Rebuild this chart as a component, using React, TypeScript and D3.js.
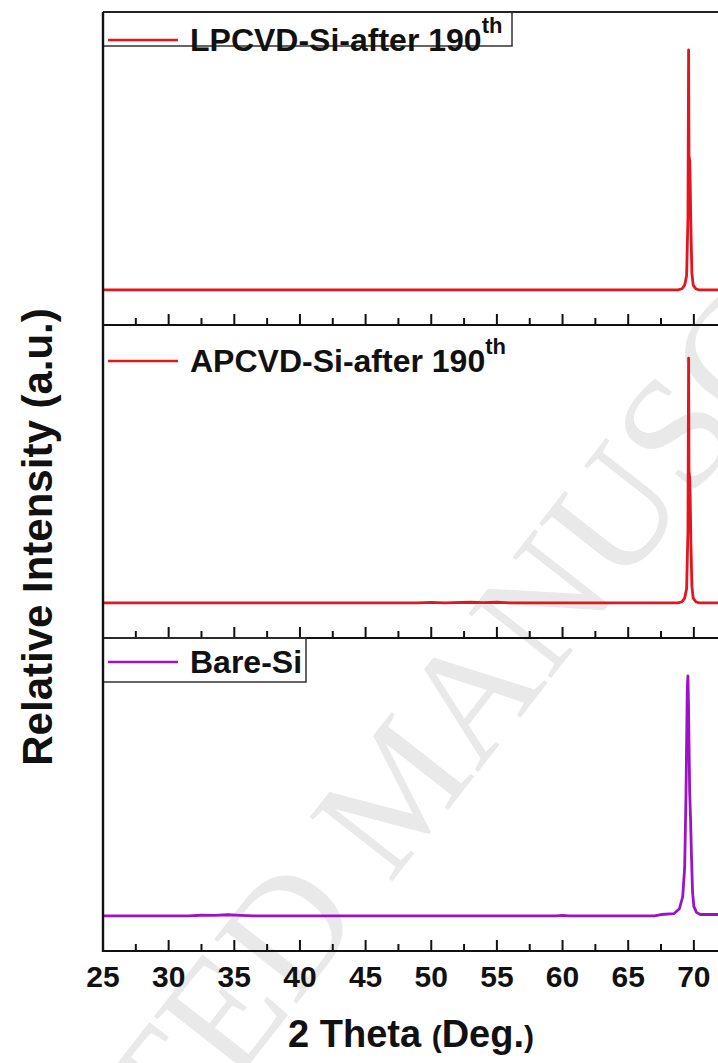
import React from "react";
import * as d3 from "d3";

// XRD scans, 2-theta (deg) vs normalised intensity
const lpcvd: [number, number][] = [
  [25, 0], [40, 0], [55, 0], [68.8, 0], [69.1, 0.005], [69.3, 0.02], [69.45, 0.06],
  [69.55, 0.3], [69.6, 1.0], [69.63, 0.56], [69.68, 0.54], [69.72, 0.45], [69.78, 0.25],
  [69.85, 0.07], [69.95, 0.02], [70.15, 0.005], [70.4, 0], [80, 0],
];
const apcvd: [number, number][] = [
  [25, 0], [49, 0], [50, 0.002], [51, 0], [53, 0.003], [54, 0.001], [55, 0.003], [56, 0],
  [68.8, 0], [69.1, 0.005], [69.3, 0.02], [69.45, 0.06], [69.55, 0.3], [69.6, 1.02],
  [69.63, 0.55], [69.68, 0.52], [69.72, 0.44], [69.78, 0.24], [69.85, 0.07], [69.95, 0.02],
  [70.15, 0.005], [70.4, 0], [80, 0],
];
const bareSi: [number, number][] = [
  [25, 0], [31.5, 0], [32.5, 0.003], [33.5, 0.002], [34.5, 0.005], [35.5, 0.002], [36.5, 0],
  [59.5, 0], [60, 0.002], [60.5, 0], [67, 0], [67.5, 0.006], [68.5, 0.01], [68.9, 0.03],
  [69.15, 0.08], [69.3, 0.2], [69.4, 0.5], [69.5, 0.95], [69.55, 1.0], [69.6, 0.86],
  [69.68, 0.52], [69.75, 0.4], [69.82, 0.25], [69.9, 0.1], [70.0, 0.04], [70.2, 0.015],
  [70.5, 0.006], [80, 0.006],
];

const seriesData = [lpcvd, apcvd, bareSi];
const seriesNames = ["LPCVD-Si-after 190", "APCVD-Si-after 190", "Bare-Si"];
const seriesSup = ["th", "th", ""];
const seriesColors = ["#e3161d", "#e3161d", "#9a14c6"];

const majorTicks = [25, 30, 35, 40, 45, 50, 55, 60, 65, 70, 75, 80];
const minorTicks = [27.5, 32.5, 37.5, 42.5, 47.5, 52.5, 57.5, 62.5, 67.5, 72.5, 77.5];

const xTitle = "2 Theta";
const xUnit = "Deg.";
const yTitle = "Relative Intensity (a.u.)";
const watermark = "ACCEPTED MANUSCRIPT";

const W = 718, H = 1063;
const left = 103;
const panelTop = 12, panelH = 313;
const font = "'Liberation Sans', Arial, sans-serif";

export default function App() {
  const x = d3.scaleLinear().domain([25, 80]).range([left, left + 55 * 13.13]);

  return (
    <svg width={W} height={H} style={{ position: "absolute", left: 0, top: 0, background: "#fff" }}>
      <rect width={W} height={H} fill="#fff" />
      <text
        transform="translate(-144,1568) rotate(-52)"
        fontFamily="'Liberation Serif', 'Times New Roman', serif"
        fontSize={160}
        fill="#e9e9e9"
      >
        {watermark}
      </text>

      {seriesData.map((data, i) => {
        const top = panelTop + i * panelH;
        const bottom = top + panelH;
        const y = d3.scaleLinear().domain([-0.146, 1.158]).range([bottom, top]);
        const line = d3.line<[number, number]>().x((d) => x(d[0])).y((d) => y(d[1]));
        const isLast = i === seriesData.length - 1;
        const legY = i === 0 ? top + 28 : i === 1 ? top + 36 : top + 24;
        const boxRight = i === 0 ? 512 : i === 1 ? 522 : 306;
        const boxBottom = i === 0 ? top + 34 : i === 1 ? top + 55 : top + 44;
        return (
          <g key={i}>
            <path d={line(data) || ""} fill="none" stroke={seriesColors[i]} strokeWidth={2.8} strokeLinejoin="round" />
            {i !== 1 && (
              <path
                d={`M${left},${top}H${boxRight}V${boxBottom}H${left}`}
                fill="none"
                stroke="#333"
                strokeWidth={1.5}
              />
            )}
            <line x1={108} x2={178} y1={legY} y2={legY} stroke={seriesColors[i]} strokeWidth={2.6} />
            <text x={190} y={legY + 11} fontFamily={font} fontWeight="bold" fontSize={32} fill="#111">
              {seriesNames[i]}
              {seriesSup[i] && (
                <tspan fontSize={22} dy={-18}>
                  {seriesSup[i]}
                </tspan>
              )}
            </text>
            {/* bottom axis of the panel with inward ticks */}
            <line x1={left} x2={W + 20} y1={bottom} y2={bottom} stroke="#111" strokeWidth={2.2} />
            {majorTicks.map((t) => (
              <line key={"M" + t} x1={x(t)} x2={x(t)} y1={bottom} y2={bottom - 11} stroke="#111" strokeWidth={2} />
            ))}
            {minorTicks.map((t) => (
              <line key={"m" + t} x1={x(t)} x2={x(t)} y1={bottom} y2={bottom - 7} stroke="#111" strokeWidth={2} />
            ))}
            {isLast &&
              majorTicks
                .filter((t) => x(t) + 18 < W)
                .map((t) => (
                  <text
                    key={"l" + t}
                    x={x(t)}
                    y={bottom + 36}
                    textAnchor="middle"
                    fontFamily={font}
                    fontWeight="bold"
                    fontSize={30}
                    fill="#111"
                  >
                    {t}
                  </text>
                ))}
          </g>
        );
      })}

      {/* frame */}
      <line x1={left} x2={W + 20} y1={panelTop} y2={panelTop} stroke="#222" strokeWidth={2.2} />
      <line x1={left} x2={left} y1={panelTop} y2={panelTop + 3 * panelH + 1} stroke="#111" strokeWidth={2.4} />

      <text x={411} y={1047} textAnchor="middle" fontFamily={font} fontWeight="bold" fontSize={38} fill="#111">
        {xTitle + " "}
        <tspan fontSize={30}>(</tspan>
        {xUnit}
        <tspan fontSize={30}>)</tspan>
      </text>
      <text
        transform="translate(52,537) rotate(-90)"
        textAnchor="middle"
        fontFamily={font}
        fontWeight="bold"
        fontSize={42}
        fill="#111"
      >
        {yTitle}
      </text>
    </svg>
  );
}
